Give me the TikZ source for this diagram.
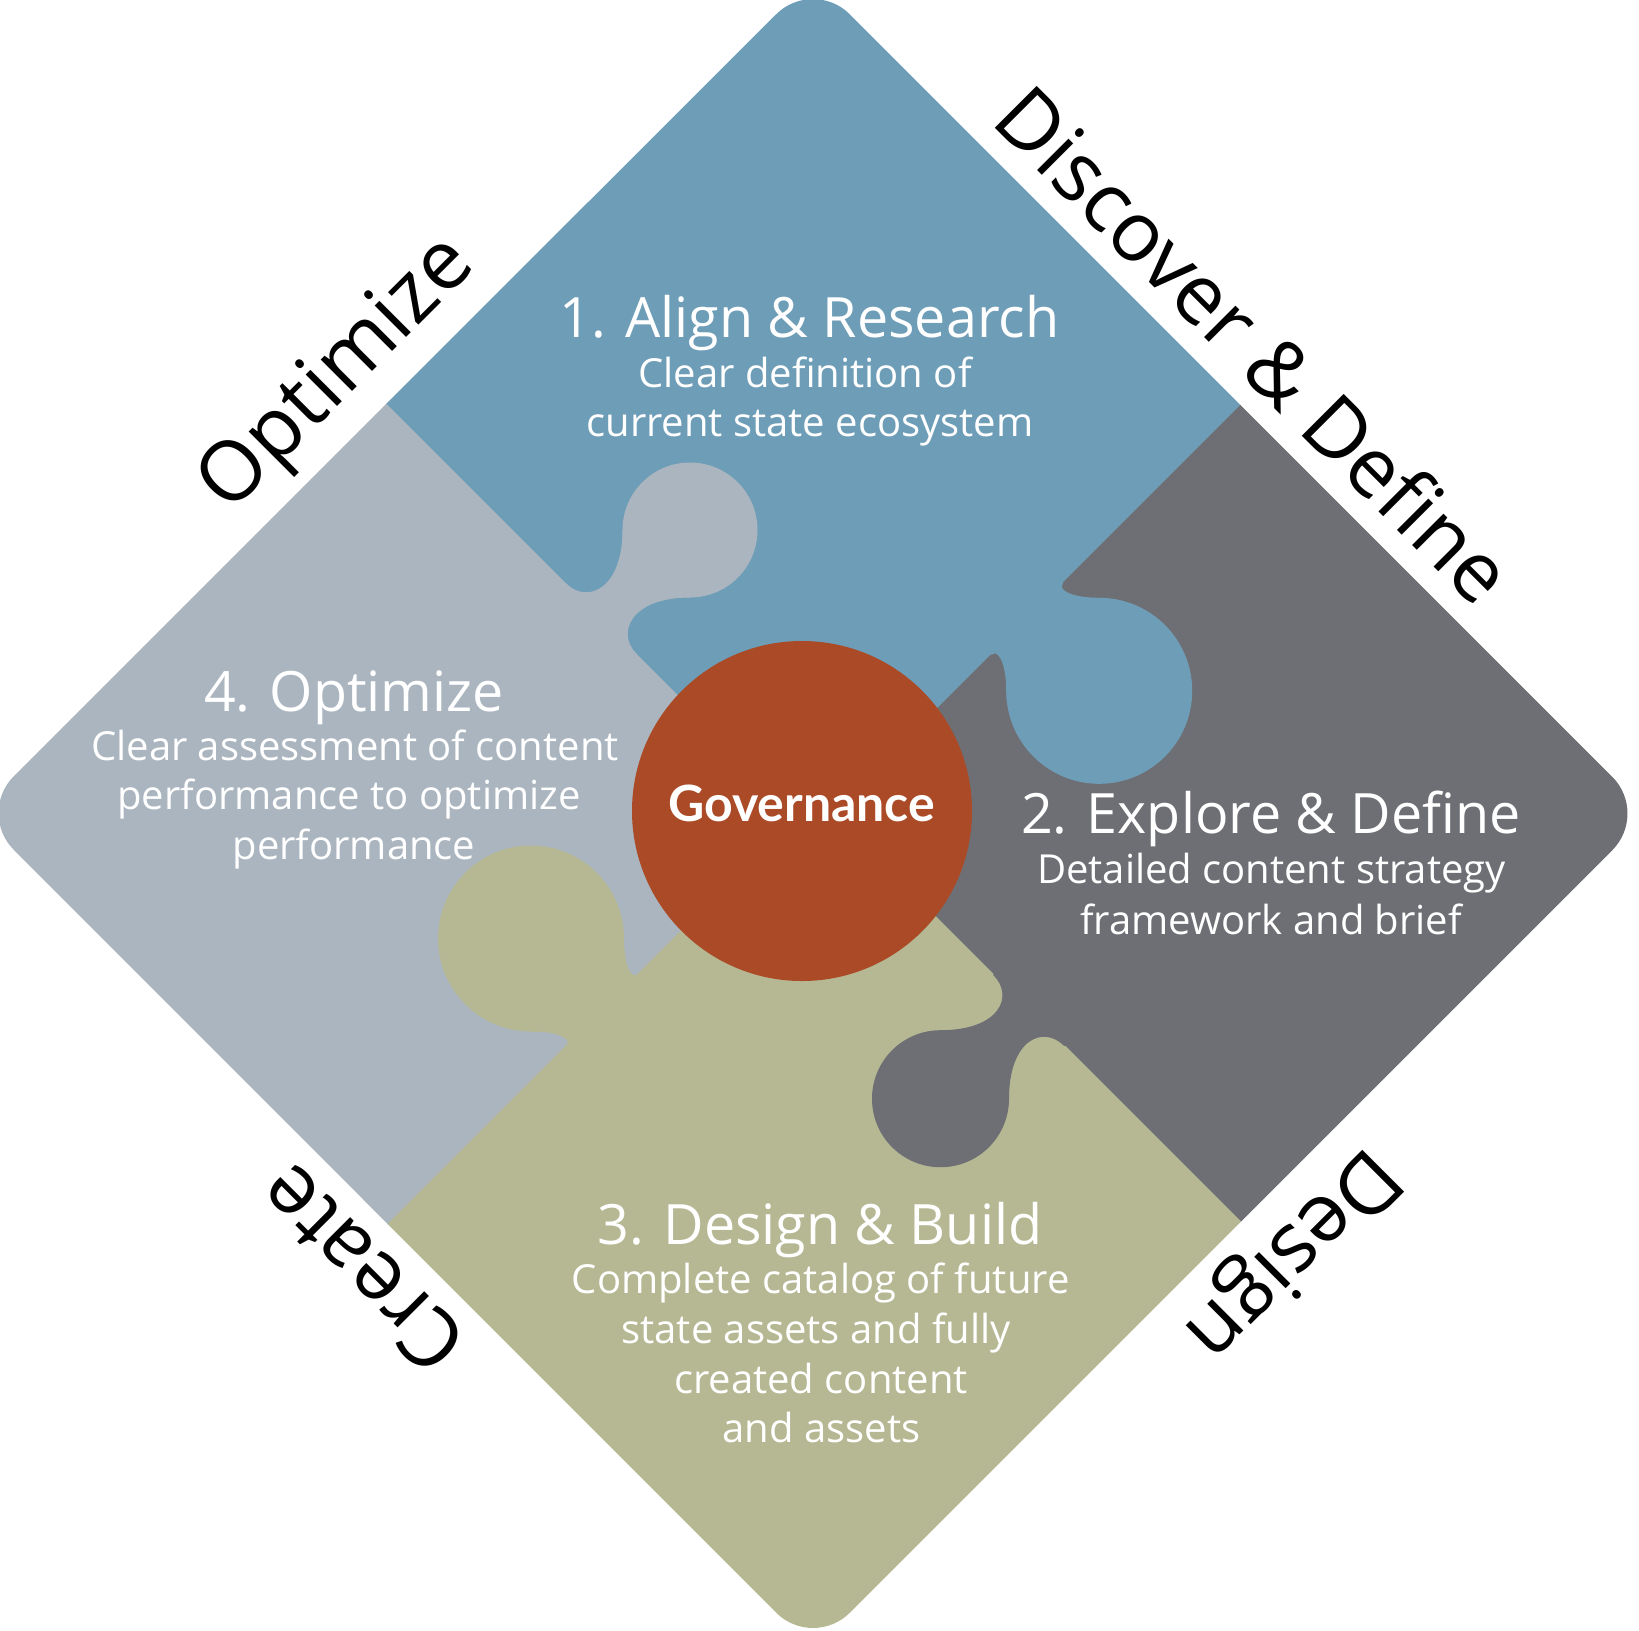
\documentclass[tikz,border=0pt]{standalone}
\usepackage{fontspec}
\usetikzlibrary{calc}
\newfontfamily\lightfont{Open Sans}
\IfFontExistsTF{Lato Bold}{\newfontfamily\govfont{Lato Bold}}{\newfontfamily\govfont{Lato}[FakeBold=2]}
\newfontfamily\labelfont{Open Sans}
\definecolor{pblue}{HTML}{6E9DB7}
\definecolor{pgrey}{HTML}{AAB5BF}
\definecolor{pdark}{HTML}{6E6F74}
\definecolor{pkhaki}{HTML}{B5B893}
\definecolor{prust}{HTML}{AB4A26}
\tikzset{
  piece/.style={fill=#1, draw=#1, line width=0.5pt},
  ttl/.style={text=white, font=\lightfont\fontsize{27.8}{32}\selectfont, inner sep=0pt, anchor=base},
  sub/.style={text=white, font=\lightfont\fontsize{20}{24}\selectfont, inner sep=0pt, anchor=base},
  gov/.style={text=white, font=\govfont\fontsize{25}{28}\selectfont, inner sep=0pt, anchor=base},
  outer/.style={text=black, font=\labelfont\fontsize{41.5}{48}\selectfont, inner sep=0pt, anchor=center}
}
% #1 colour, #2 knob centre, #3 unit vector into receiving piece, #4 unit vector along seam (edge to centre),
% #5 distance centre-seam, #6 radius, #7 half neck width on seam, #8 seam handle, #9 head handle
\newcommand\knob[9]{%
  \pgfmathsetmacro\kr{0.70711*#6}%
  \pgfmathsetmacro\kk{0.70711*#9}%
  \coordinate (kC) at (#2);
  \coordinate (ka) at (#3);
  \coordinate (kw) at (#4);
  \coordinate (kF) at ($(kC)-#5*(ka)$);
  \coordinate (kP1) at ($(kF)-#7*(kw)$);
  \coordinate (kP2) at ($(kF)+#7*(kw)$);
  \coordinate (kc1) at ($(kP1)+#8*(kw)$);
  \coordinate (kc4) at ($(kP2)-#8*(kw)$);
  \coordinate (kQ1) at ($(kC)-\kr*(ka)-\kr*(kw)$);
  \coordinate (kQ2) at ($(kC)-\kr*(ka)+\kr*(kw)$);
  \coordinate (kc2) at ($(kQ1)-\kk*(ka)+\kk*(kw)$);
  \coordinate (kc3) at ($(kQ2)-\kk*(ka)-\kk*(kw)$);
  \coordinate (kB1) at ($(kP1)-4*(ka)$);
  \coordinate (kB2) at ($(kP2)-4*(ka)$);
  \path[piece=#1] (kB1) -- (kP1) .. controls (kc1) and (kc2) .. (kQ1) -- (kC) -- (kQ2)
      .. controls (kc3) and (kc4) .. (kP2) -- (kB2) -- cycle;
  \path[piece=#1] (kC) circle[radius=#6];
}
\begin{document}
\begin{tikzpicture}[x=0.5pt,y=-0.5pt]
\useasboundingbox (0,0) rectangle (1639,1630);
\begin{scope}
  \clip[rounded corners=26pt] (395,395) -- (813,-22.5) -- (1649,813.5) -- (813,1649.5) -- (-23,813) -- cycle;
  % quadrants
  \path[piece=pblue]  (200,218) -- (814,832) -- (1440,206) -- (1440,-100) -- (200,-100) -- cycle;
  \path[piece=pgrey]  (200,218) -- (797,815) -- (200,1412) -- (-300,1412) -- (-300,218) -- cycle;
  \path[piece=pdark]  (1440,206) -- (832.5,813.5) -- (1440,1421) -- (2000,1421) -- (2000,206) -- cycle;
  \path[piece=pkhaki] (1440,1421) -- (815.5,796.5) -- (200,1412) -- (200,2000) -- (1440,2000) -- cycle;
  % knobs
  \knob{pgrey}{690,530}{0.70711,-0.70711}{0.70711,0.70711}{125.9}{67}{50}{30}{60}
  \knob{pblue}{1099.2,690.8}{0.70711,0.70711}{-0.70711,0.70711}{101.8}{92.5}{50}{8}{30}
  \knob{pdark}{940.5,1098.7}{-0.70711,0.70711}{-0.70711,-0.70711}{125.3}{68}{50}{30}{60}
  \knob{pkhaki}{531,938.5}{-0.70711,-0.70711}{0.70711,-0.70711}{100.8}{92.5}{50}{8}{30}
\end{scope}
% centre
\node[circle, fill=prust, inner sep=0pt, minimum size=170pt] (hub) at (802,811) {};
\node[gov] (govtext) at (801.7,821.8) {Governance};
% piece 1
\node[ttl] (t1) at (809.5,337) {1. Align \& Research};
\node[sub] (s1a) at (805,387) {Clear definition of};
\node[sub] (s1b) at (810,436.7) {current state ecosystem};
% piece 2
\node[ttl] (t2) at (1271,833.5) {2. Explore \& Define};
\node[sub] (s2a) at (1271.4,883) {Detailed content strategy};
\node[sub] (s2b) at (1271,934) {framework and brief};
% piece 3
\node[ttl] (t3) at (820,1244) {3. Design \& Build};
\node[sub] (s3a) at (820.7,1293.8) {Complete catalog of future};
\node[sub] (s3b) at (816,1343.5) {state assets and fully};
\node[sub] (s3c) at (821,1393) {created content};
\node[sub] (s3d) at (821.4,1442.8) {and assets};
% piece 4
\node[ttl] (t4) at (354,711) {4. Optimize};
\node[sub] (s4a) at (355,760) {Clear assessment of content};
\node[sub] (s4b) at (349,809.6) {performance to optimize};
\node[sub] (s4c) at (354,859.7) {performance};
% outer labels
\node[outer, rotate=45]  (lopt) at (339,376) {Optimize};
\node[outer, rotate=-45] (ldis) at (1255,344) {Discover \& Define};
\node[outer, rotate=225] (ldes) at (1289.7,1252) {Design};
\node[outer, rotate=135] (lcre) at (361,1270) {Create};
\end{tikzpicture}
\end{document}
